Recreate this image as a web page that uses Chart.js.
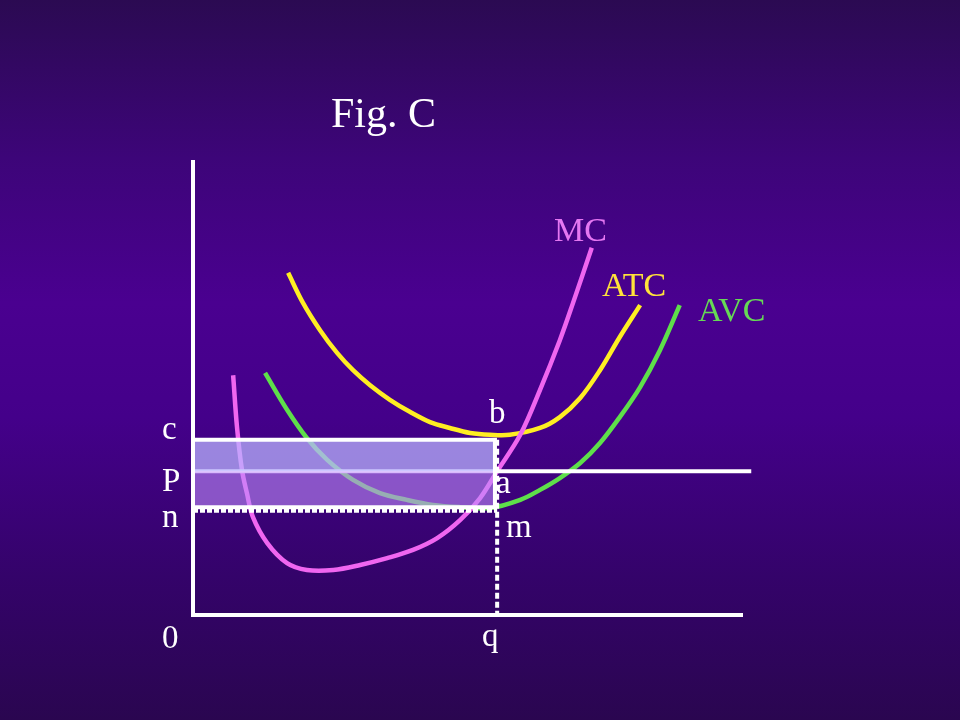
<!DOCTYPE html>
<html>
<head>
<meta charset="utf-8">
<script src="https://cdn.jsdelivr.net/npm/chart.js@4/dist/chart.umd.min.js"></script>
<style>
  html, body { margin: 0; padding: 0; }
  #wrap {
    width: 960px; height: 720px;
    background: linear-gradient(to bottom, #2b0a52 0%, #3d0579 22%, #4a0090 42%, #44008a 58%, #34036a 80%, #2a0650 100%);
  }
</style>
</head>
<body>
<div id="wrap"><canvas id="chart" width="960" height="720"></canvas></div>
<script>
// cost curves (quantity, cost) in chart units: x 0..100, y 0..100
const mcX  = [7.3, 8.0, 8.9, 9.8, 10.9, 13.5, 17.1, 20.7, 25.5, 30.4, 35.3, 40.0, 44.4, 48.6, 52.2, 55.3, 59.5, 63.1, 66.7, 69.1, 72.5];
const mcY  = [52.7, 41.3, 31.9, 26.8, 21.5, 15.8, 11.4, 9.9, 9.9, 11.0, 12.5, 14.3, 16.9, 20.9, 25.7, 31.6, 39.6, 49.5, 60.4, 68.6, 80.7];
const atcX = [17.3, 20.0, 23.1, 26.2, 29.1, 32.2, 35.8, 39.5, 43.1, 46.7, 50.4, 54.0, 57.6, 63.1, 66.7, 70.4, 74.0, 77.6, 81.3];
const atcY = [75.2, 68.6, 62.6, 57.6, 53.8, 50.5, 47.3, 44.6, 42.4, 41.1, 40.0, 39.6, 39.6, 41.1, 43.5, 47.7, 53.8, 61.1, 68.1];
const avcX = [13.1, 17.1, 20.7, 24.4, 29.1, 34.0, 38.9, 43.6, 48.6, 54.0, 59.5, 63.1, 66.7, 70.4, 74.0, 77.6, 81.3, 84.9, 88.5];
const avcY = [53.2, 45.1, 38.9, 34.1, 29.7, 26.8, 25.3, 24.2, 23.7, 23.5, 25.3, 27.5, 30.1, 33.4, 37.8, 43.5, 50.1, 58.2, 68.1];

// key levels
const levelC = 38.5;   // average total cost at q
const levelP = 31.6;   // price
const levelN = 23.7;   // average variable cost at q
const qtyQ = 54.9;
const priceLineEnd = 101.5;

const pts = (xs, ys) => xs.map((x, i) => ({ x: x, y: ys[i] }));

const white = '#ffffff';

const datasets = [
  // axes
  { data: [{ x: 0, y: 100 }, { x: 0, y: 0 }, { x: 100, y: 0 }], borderColor: white, borderWidth: 4, order: 0, tension: 0 },
  // dotted guides
  { data: [{ x: 0, y: levelN - 0.8 }, { x: qtyQ + 0.4, y: levelN - 0.8 }], borderColor: white, borderWidth: 4, borderDash: [5, 2], order: 1, tension: 0 },
  { data: [{ x: qtyQ + 0.4, y: levelC }, { x: qtyQ + 0.4, y: 0 }], borderColor: white, borderWidth: 4, borderDash: [6, 3], order: 1, tension: 0 },
  // rectangle borders
  { data: [{ x: 0, y: levelC }, { x: qtyQ, y: levelC }, { x: qtyQ, y: levelN }, { x: 0, y: levelN }], borderColor: white, borderWidth: 4, order: 2, tension: 0 },
  // rectangle fills
  { data: [{ x: 0, y: levelC }, { x: qtyQ, y: levelC }], borderWidth: 0, borderColor: 'rgba(0,0,0,0)', fill: { value: levelP }, backgroundColor: 'rgba(186,180,255,0.74)', order: 3, tension: 0 },
  { data: [{ x: 0, y: levelP }, { x: qtyQ, y: levelP }], borderWidth: 0, borderColor: 'rgba(0,0,0,0)', fill: { value: levelN }, backgroundColor: 'rgba(190,140,250,0.6)', order: 3, tension: 0 },
  // price line
  { data: [{ x: 0, y: levelP }, { x: priceLineEnd, y: levelP }], borderColor: white, borderWidth: 4, order: 4, tension: 0 },
  // cost curves
  { data: pts(mcX, mcY), borderColor: '#f066f0', borderWidth: 4.5, order: 5, tension: 0.35 },
  { data: pts(atcX, atcY), borderColor: '#ffee22', borderWidth: 4.5, order: 5, tension: 0.35 },
  { data: pts(avcX, avcY), borderColor: '#5ee04a', borderWidth: 4.5, order: 5, tension: 0.35 }
];

const serif = '"Liberation Serif", "Times New Roman", serif';

const labelsPlugin = {
  id: 'labels',
  afterDraw(chart) {
    const ctx = chart.ctx;
    const xs = chart.scales.x, ys = chart.scales.y;
    ctx.save();
    ctx.textBaseline = 'alphabetic';
    ctx.textAlign = 'left';

    ctx.font = '42px ' + serif;
    ctx.fillStyle = white;
    ctx.fillText('Fig. C', 331, 127);

    ctx.font = '34px ' + serif;
    ctx.fillStyle = '#e577f2';
    ctx.fillText('MC', 554, 241);
    ctx.fillStyle = '#ffe23a';
    ctx.fillText('ATC', 602, 296);
    ctx.fillStyle = '#66d955';
    ctx.fillText('AVC', 698, 321);

    ctx.fillStyle = white;
    ctx.font = '33px ' + serif;
    ctx.fillText('c', 162, ys.getPixelForValue(levelC) - 1);
    ctx.fillText('P', 162, ys.getPixelForValue(levelP) + 20);
    ctx.fillText('n', 162, ys.getPixelForValue(levelN) + 20);
    ctx.fillText('0', 162, 648);
    ctx.fillText('q', xs.getPixelForValue(qtyQ) - 13, 646);
    ctx.fillText('b', 489, 423);
    ctx.fillText('a', 496, 493);
    ctx.fillText('m', 506, 537);
    ctx.restore();
  }
};

new Chart(document.getElementById('chart'), {
  type: 'line',
  data: { datasets: datasets },
  options: {
    responsive: false,
    animation: false,
    layout: { padding: { left: 193, right: 217, top: 160, bottom: 105 } },
    datasets: { line: { clip: false, pointRadius: 0, fill: false } },
    scales: {
      x: { type: 'linear', min: 0, max: 100, display: false },
      y: { type: 'linear', min: 0, max: 100, display: false }
    },
    plugins: { legend: { display: false }, tooltip: { enabled: false } }
  },
  plugins: [labelsPlugin]
});
</script>
</body>
</html>
